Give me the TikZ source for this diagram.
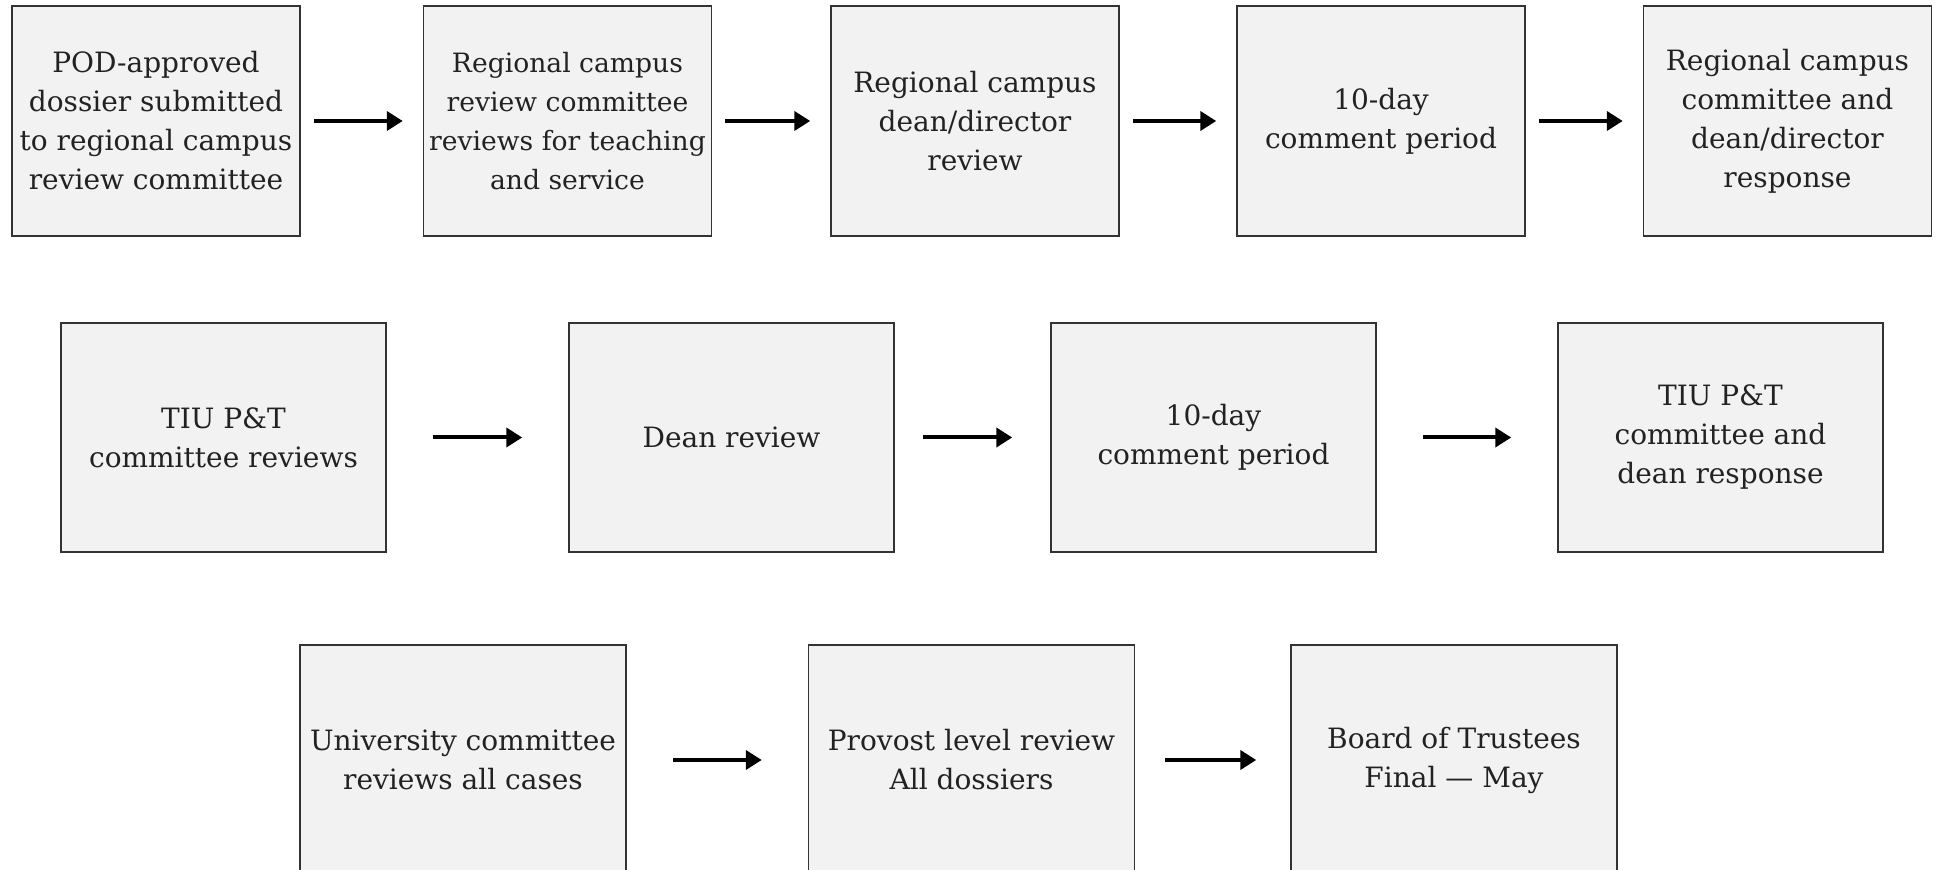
\documentclass[tikz,border=0pt]{standalone}
\usepackage{fontspec}
\setmainfont{DejaVu Serif}
\usetikzlibrary{arrows.meta,calc}
\definecolor{boxfill}{HTML}{F2F2F2}
\definecolor{boxline}{HTML}{333333}
\definecolor{txt}{HTML}{222222}
\tikzset{
  stepbox/.style={draw=boxline, line width=0.75pt, fill=boxfill, rectangle,
    inner sep=0pt, align=center, text=txt,
    font=\fontsize{14}{19.5}\selectfont},
  flowarrow/.style={line width=2pt, -{Triangle[length=8pt,width=9.5pt]}},
}
\begin{document}
\begin{tikzpicture}[x=0.5pt,y=-0.5pt]
\useasboundingbox (0,0) rectangle (1939,870);
% row 1
\node[stepbox, minimum width=144pt, minimum height=115pt] (a1) at (156,121) {POD-approved\\dossier submitted\\to regional campus\\review committee};
\node[stepbox, minimum width=144pt, minimum height=115pt, font=\fontsize{13.3}{19.5}\selectfont] (a2) at (567.5,121) {Regional campus\\review committee\\reviews for teaching\\and service};
\node[stepbox, minimum width=144pt, minimum height=115pt] (a3) at (975,121) {Regional campus\\dean/director\\review};
\node[stepbox, minimum width=144pt, minimum height=115pt] (a4) at (1381,121) {10-day\\comment period};
\node[stepbox, minimum width=144pt, minimum height=115pt] (a5) at (1787.5,121) {Regional campus\\committee and\\dean/director\\response};
% row 2
\node[stepbox, minimum width=162.5pt, minimum height=114.5pt] (b1) at (223.5,437.5) {TIU P\&T\\committee reviews};
\node[stepbox, minimum width=162.5pt, minimum height=114.5pt] (b2) at (731.5,437.5) {Dean review};
\node[stepbox, minimum width=162.5pt, minimum height=114.5pt] (b3) at (1213.5,437.5) {10-day\\comment period};
\node[stepbox, minimum width=162.5pt, minimum height=114.5pt] (b4) at (1720.5,437.5) {TIU P\&T\\committee and\\dean response};
% row 3
\node[stepbox, minimum width=163pt, minimum height=115pt] (c1) at (463,760) {University committee\\reviews all cases};
\node[stepbox, minimum width=163pt, minimum height=115pt] (c2) at (971.5,760) {Provost level review\\All dossiers};
\node[stepbox, minimum width=163pt, minimum height=115pt] (c3) at (1454,760) {Board of Trustees\\Final — May};
% arrows
\foreach \p/\q in {a1/a2,a2/a3,a3/a4,a4/a5}
  \draw[flowarrow, shorten <=6.5pt, shorten >=10pt] (\p.east) -- (\q.west);
\foreach \p/\q in {b1/b2,b3/b4,c1/c2}
  \draw[flowarrow, shorten <=23pt, shorten >=23pt] (\p.east) -- (\q.west);
\draw[flowarrow, shorten <=14pt, shorten >=19pt] (b2.east) -- (b3.west);
\draw[flowarrow, shorten <=15pt, shorten >=17pt] (c2.east) -- (c3.west);
\end{tikzpicture}
\end{document}
